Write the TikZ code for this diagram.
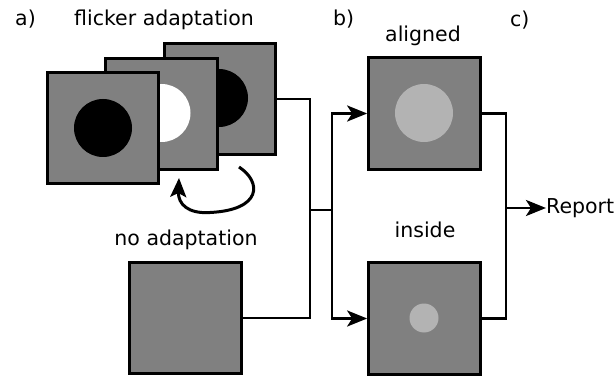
\documentclass[tikz,border=0pt]{standalone}
\usepackage{fontspec}
\setmainfont{DejaVu Sans}
\usetikzlibrary{arrows.meta}
\definecolor{panelgray}{HTML}{808080}
\definecolor{lightdisc}{HTML}{B3B3B3}
\begin{document}
\begin{tikzpicture}[x=1pt,y=-1pt,
  panel/.style={rectangle, draw=black, fill=panelgray, line width=3.2pt,
    minimum size=111.5pt, inner sep=0pt},
  disc/.style={circle, inner sep=0pt, minimum size=#1},
  wire/.style={line width=2.8pt},
  flow/.style={wire, -{Stealth[length=20pt,width=16pt,inset=5pt]}},
  lbl/.style={font=\fontsize{20.5}{24}\selectfont, inner sep=0pt}]
\useasboundingbox (0,0) rectangle (616,377);

% stacked flicker frames, back to front
\node[panel] (back) at (220,99) {};
\node[disc=58pt, fill=black] (backdisc) at (219,98) {};
\node[panel] (mid) at (161.5,114) {};
\node[disc=58pt, fill=white] (middisc) at (161.5,113) {};
\node[panel] (front) at (103,128) {};
\node[disc=58pt, fill=black] (frontdisc) at (103,128) {};

% cycling arrow under the frames
\coordinate (cyc0) at (239,167);
\coordinate (cyc1) at (210,212.5);
\coordinate (cyc2) at (179,178);
\draw[line width=3pt, -{Stealth[length=19pt,width=16pt,inset=4pt]}]
  (cyc0) .. controls (262,182) and (262,210) .. (cyc1)
         .. controls (188,214) and (178,204) .. (cyc2);

% no-adaptation frame
\node[panel] (noad) at (185.5,318) {};

% test frames
\node[panel] (aligned) at (424.5,113.5) {};
\node[disc=58pt, fill=lightdisc] (aldisc) at (424,113) {};
\node[panel] (inside) at (424.5,318.5) {};
\node[disc=29pt, fill=lightdisc] (indisc) at (424,318) {};

% labels
\node[lbl, anchor=base west] (la) at (15,26) {a)};
\node[lbl, anchor=base west] (lb) at (333,26) {b)};
\node[lbl, anchor=base west] (lc) at (510,27) {c)};
\node[lbl, anchor=base] (tflick) at (164,26) {flicker adaptation};
\node[lbl, anchor=base] (tnoad) at (186,245) {no adaptation};
\node[lbl, anchor=base] (tal) at (423,42) {aligned};
\node[lbl, anchor=base] (tin) at (425,237) {inside};
\node[lbl, anchor=west] (report) at (546,208) {Report};

% connectors
\coordinate (jl) at (310,210);
\coordinate (jm) at (332,210);
\coordinate (jr) at (506,208);
\draw[wire] (back.east) -| (jl) |- (noad.east);
\draw[wire] (jl) -- (jm);
\draw[flow] (jm) |- (aligned.west);
\draw[flow] (jm) |- (inside.west);
\draw[wire] (aligned.east) -| (jr) |- (inside.east);
\draw[flow] (jr) -- (report.west);
\end{tikzpicture}
\end{document}
